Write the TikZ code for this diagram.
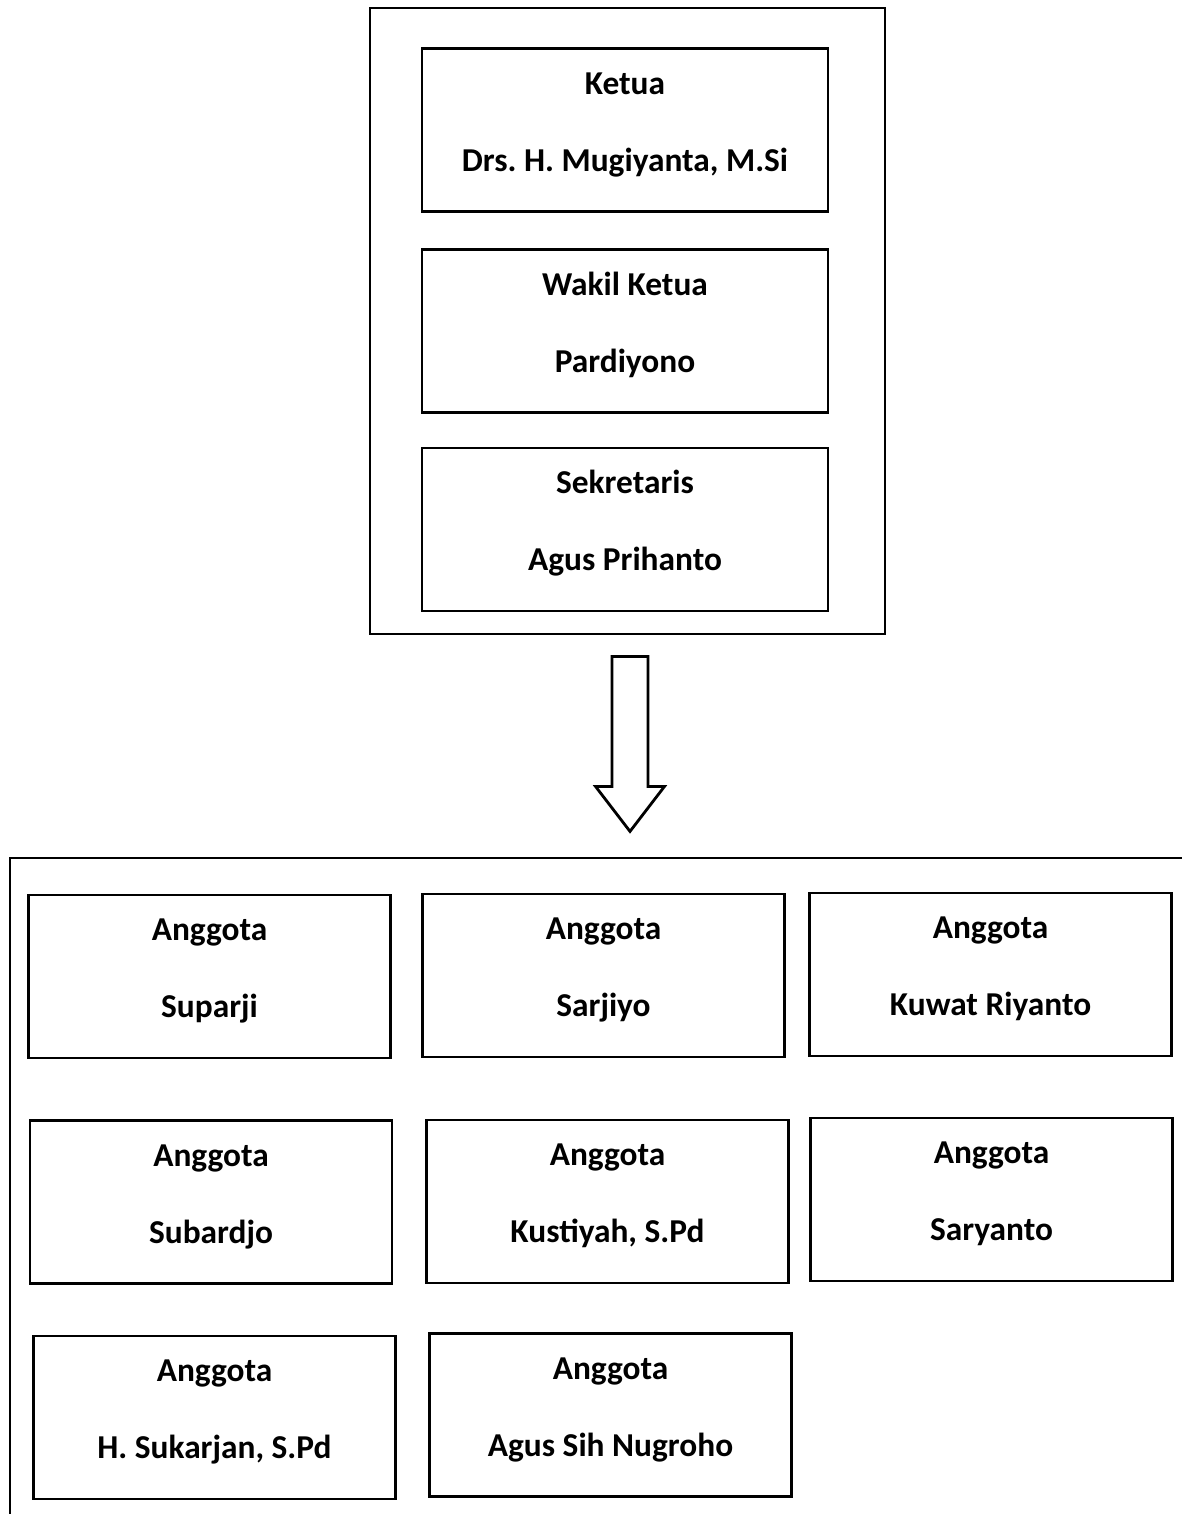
\documentclass[tikz,border=0pt]{standalone}
\usepackage{fontspec}
\setmainfont{Carlito}
\usetikzlibrary{positioning,calc}
\frenchspacing
\newlength\px
\setlength\px{0.02cm}
\newcommand\Jabatan[2]{#1\\#2}
\tikzset{
  frame/.style={draw, line width=1.6pt, rectangle},
  jbox/.style={
    draw,
    rectangle,
    line width=1.6pt,
    minimum width=406\px,
    minimum height=163\px,
    text height=50pt,
    text depth=2.8pt,
    align=center,
    font=\fontsize{19}{44}\selectfont\bfseries
  },
  abox/.style={jbox, minimum width=362\px},
}
\begin{document}
\begin{tikzpicture}[x=0.02cm,y=-0.02cm]
        \useasboundingbox (0,0) rectangle (1181,1514);

        % Pengurus
        \node (frame) [frame, minimum width=515\px, minimum height=626\px] at (627.5,321) {};
        \node (ketua) [jbox] at (625,130) {\Jabatan{Ketua}{Drs. H. Mugiyanta, M.Si}};
        \node (wakil) [jbox] at (625,331) {\Jabatan{Wakil Ketua}{Pardiyono}};
        \node (sekretaris) [jbox] at (625,529.5) {\Jabatan{Sekretaris}{Agus Prihanto}};

        % Panah
        \coordinate (arrTop) at ($(frame.south)+(2.5,21)$);
        \coordinate (arrTip) at ($(frame.south)+(2.5,196)$);
        \draw [line width=1.6pt, line join=miter]
          ($(arrTop)+(-18,0)$) -- ($(arrTop)+(18,0)$) -- ($(arrTip)+(18,-45)$)
          -- ($(arrTip)+(34.5,-45)$) -- (arrTip) -- ($(arrTip)+(-34.5,-45)$)
          -- ($(arrTip)+(-18,-45)$) -- cycle;

        % Anggota
        \coordinate (frameTL) at (10,858);
        \draw [line width=1.6pt] (1190,858) -- (frameTL) -- (10,1520);

        \node (suparji) [abox] at (209.5,976.5) {\Jabatan{Anggota}{Suparji}};
        \node (sarjiyo) [abox] at (603.5,975.5) {\Jabatan{Anggota}{Sarjiyo}};
        \node (kuwat) [abox] at (990.5,974.5) {\Jabatan{Anggota}{Kuwat Riyanto}};

        \node (subardjo) [abox] at (211,1202) {\Jabatan{Anggota}{Subardjo}};
        \node (kustiyah) [abox] at (607.5,1201.5) {\Jabatan{Anggota}{Kustiyah, S.Pd}};
        \node (saryanto) [abox] at (991.5,1199.5) {\Jabatan{Anggota}{Saryanto}};

        \node (sukarjan) [abox] at (214.5,1417.5) {\Jabatan{Anggota}{H. Sukarjan, S.Pd}};
        \node (nugroho) [abox] at (610.5,1415) {\Jabatan{Anggota}{Agus Sih Nugroho}};
\end{tikzpicture}
\end{document}
